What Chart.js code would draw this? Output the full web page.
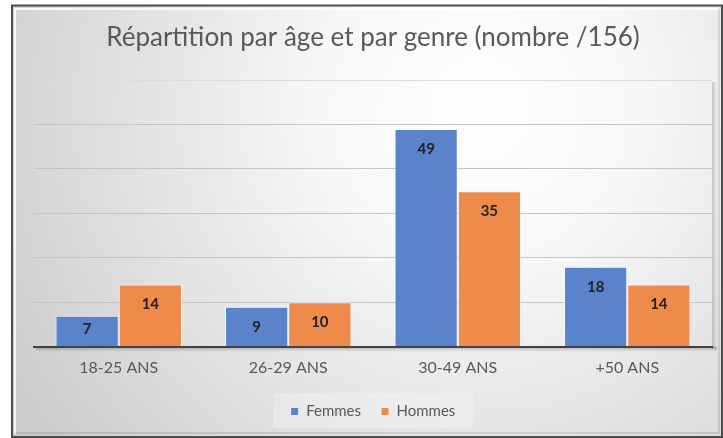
<!DOCTYPE html>
<html>
<head>
<meta charset="utf-8">
<script src="https://cdn.jsdelivr.net/npm/chart.js@4"></script>
<style>
  html, body { margin: 0; padding: 0; background: #ffffff; }
  #wrap { width: 723px; height: 438px; position: relative; }
</style>
</head>
<body>
<div id="wrap"><canvas id="c" width="723" height="438"></canvas></div>
<script>
const categories = ['18-25 ANS', '26-29 ANS', '30-49 ANS', '+50 ANS'];
const femmes = [7, 9, 49, 18];
const hommes = [14, 10, 35, 14];
const seriesNames = ['Femmes', 'Hommes'];
const titleText = 'Répartition par âge et par genre (nombre /156)';
const yTicks = [0, 10, 20, 30, 40, 50, 60];

const FONT = 'Lato, "Open Sans", sans-serif';

const backgroundPlugin = {
  id: 'bgFrame',
  beforeDraw(chart) {
    const ctx = chart.ctx;
    const W = chart.width, H = chart.height;
    ctx.save();
    ctx.fillStyle = '#ffffff';
    ctx.fillRect(0, 0, W, H);
    const g = ctx.createRadialGradient(480, 110, 0, 480, 110, 540);
    g.addColorStop(0, '#ffffff');
    g.addColorStop(0.3, '#f7f7f7');
    g.addColorStop(1, '#cccccc');
    ctx.fillStyle = g;
    ctx.fillRect(12, 5, W - 12, H - 5);
    // bevel highlight
    ctx.strokeStyle = 'rgba(255,255,255,0.8)';
    ctx.lineWidth = 2;
    ctx.beginPath();
    ctx.moveTo(15, H - 4);
    ctx.lineTo(15, 9);
    ctx.lineTo(W - 4, 9);
    ctx.stroke();
    ctx.strokeStyle = 'rgba(0,0,0,0.10)';
    ctx.beginPath();
    ctx.moveTo(15, H - 5);
    ctx.lineTo(W - 4, H - 5);
    ctx.lineTo(W - 4, 9);
    ctx.stroke();
    // outer frame
    ctx.strokeStyle = '#4d4d4d';
    ctx.lineWidth = 2;
    ctx.strokeRect(12, 5.5, W - 13, H - 6.5);
    // legend box subtle
    ctx.fillStyle = 'rgba(255,255,255,0.25)';
    ctx.fillRect(273, 393, 200, 35);
    // plot area shadow on right and under axis
    const a = chart.chartArea;
    const sg = ctx.createLinearGradient(a.right, 0, a.right + 5, 0);
    sg.addColorStop(0, 'rgba(0,0,0,0.18)');
    sg.addColorStop(1, 'rgba(0,0,0,0)');
    ctx.fillStyle = sg;
    ctx.fillRect(a.right, a.top + 2, 5, a.bottom - a.top);
    const bg2 = ctx.createLinearGradient(0, a.bottom, 0, a.bottom + 5);
    bg2.addColorStop(0, 'rgba(0,0,0,0.25)');
    bg2.addColorStop(1, 'rgba(0,0,0,0)');
    ctx.fillStyle = bg2;
    ctx.fillRect(a.left + 2, a.bottom, a.right - a.left + 3, 5);
    ctx.restore();
  }
};

const labelPlugin = {
  id: 'barLabels',
  afterDatasetsDraw(chart) {
    const ctx = chart.ctx;
    ctx.save();
    ctx.font = 'bold 15px ' + FONT;
    ctx.fillStyle = '#222222';
    ctx.textAlign = 'center';
    ctx.textBaseline = 'middle';
    chart.data.datasets.forEach((ds, di) => {
      const meta = chart.getDatasetMeta(di);
      meta.data.forEach((bar, i) => {
        const y = Math.min(bar.y + 20, bar.base - 17);
        ctx.fillText(String(ds.data[i]), bar.x, y);
      });
    });
    ctx.restore();
  }
};

new Chart(document.getElementById('c'), {
  type: 'bar',
  data: {
    labels: categories,
    datasets: [
      { label: seriesNames[0], data: femmes, backgroundColor: '#5a83cc', borderColor: 'rgba(255,255,255,0.75)', borderWidth: 1 },
      { label: seriesNames[1], data: hommes, backgroundColor: '#ee8b4a', borderColor: 'rgba(255,255,255,0.75)', borderWidth: 1 }
    ]
  },
  options: {
    responsive: false,
    animation: false,
    devicePixelRatio: 1,
    layout: { padding: { left: 34, right: 11, top: 0, bottom: 9 } },
    datasets: { bar: { categoryPercentage: 0.746, barPercentage: 1 } },
    plugins: {
      title: {
        display: true,
        text: titleText,
        color: '#595959',
        font: { family: FONT, size: 26, weight: 'normal' },
        padding: { top: 22.4, bottom: 26.4 }
      },
      legend: {
        display: true,
        position: 'bottom',
        labels: {
          color: '#595959',
          font: { family: FONT, size: 15 },
          boxWidth: 8,
          boxHeight: 8,
          padding: 20
        }
      },
      tooltip: { enabled: false }
    },
    scales: {
      x: {
        grid: { display: false, drawTicks: false },
        border: { display: true, color: '#404040', width: 2 },
        ticks: { color: '#595959', font: { family: FONT, size: 16 }, padding: 11 },
        afterFit(scale) { scale.height -= 4; }
      },
      y: {
        min: yTicks[0],
        max: yTicks[yTicks.length - 1],
        afterBuildTicks(scale) { scale.ticks = yTicks.map(v => ({ value: v })); },
        ticks: { display: false },
        grid: {
          drawTicks: false,
          color: (c) => (c.tick && c.tick.value === 60 ? '#dcdcdc' : '#c4c4c4'),
          lineWidth: 1
        },
        border: { display: false }
      }
    }
  },
  plugins: [backgroundPlugin, labelPlugin]
});
</script>
</body>
</html>
